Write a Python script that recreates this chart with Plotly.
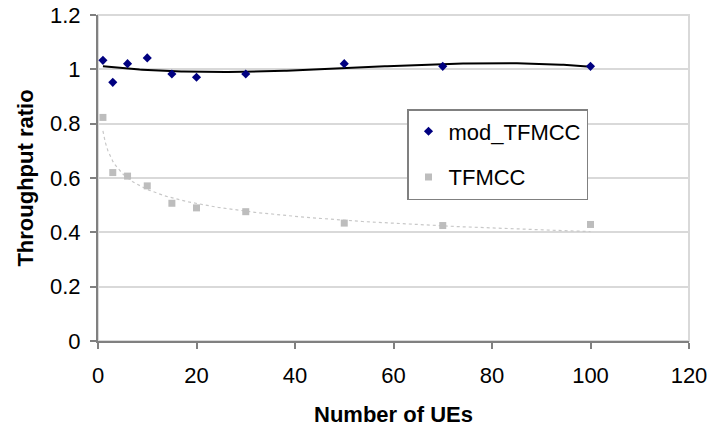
import numpy as np
import plotly.graph_objects as go

# Data
ues = [1, 3, 6, 10, 15, 20, 30, 50, 70, 100]
mod_tfmcc = [1.033, 0.952, 1.021, 1.042, 0.983, 0.971, 0.983, 1.021, 1.011, 1.011]
tfmcc = [0.823, 0.620, 0.607, 0.571, 0.507, 0.490, 0.476, 0.434, 0.425, 0.429]
x_ticks = [0, 20, 40, 60, 80, 100, 120]
y_ticks = [0, 0.2, 0.4, 0.6, 0.8, 1.0, 1.2]

# Trendlines (as Excel would fit them): cubic polynomial and power law
xs = np.linspace(min(ues), max(ues), 200)
poly = np.polyfit(ues, mod_tfmcc, 3)
mod_trend = np.polyval(poly, xs)
b, ln_a = np.polyfit(np.log(ues), np.log(tfmcc), 1)
tf_trend = np.exp(ln_a) * xs ** b

FONT = "Liberation Sans, Arial, sans-serif"
L, R, T, B = 98, 22, 15, 86
PW, PH = 711 - L - R, 427 - T - B

fig = go.Figure()
fig.add_trace(go.Scatter(x=xs, y=tf_trend, mode="lines", showlegend=False,
                         line=dict(color="#C8C8C8", width=1.2, dash="dot"), hoverinfo="skip"))
fig.add_trace(go.Scatter(x=xs, y=mod_trend, mode="lines", showlegend=False,
                         line=dict(color="#000000", width=2), hoverinfo="skip"))
fig.add_trace(go.Scatter(x=ues, y=mod_tfmcc, mode="markers", name="mod_TFMCC",
                         legendgroup="a",
                         marker=dict(symbol="diamond", size=7, color="#000080")))
fig.add_trace(go.Scatter(x=ues, y=tfmcc, mode="markers", name="TFMCC",
                         legendgroup="b",
                         marker=dict(symbol="square", size=7, color="#BDBDBD")))

fig.update_layout(
    width=711, height=427,
    margin=dict(l=L, r=R, t=T, b=B),
    paper_bgcolor="white", plot_bgcolor="white",
    font=dict(family=FONT, size=22, color="#000000"),
    showlegend=True,
    legend=dict(x=(407 - L) / PW, y=1 - (109 - T) / PH, xanchor="left", yanchor="top",
                bgcolor="white", bordercolor="#808080", borderwidth=1.5,
                font=dict(size=22), tracegroupgap=14, traceorder="grouped",
                entrywidth=150, entrywidthmode="pixels"),
    shapes=[dict(type="rect", xref="paper", yref="paper", x0=0, x1=1, y0=0, y1=1,
                 line=dict(color="#D9D9D9", width=2), layer="below")],
)
fig.update_xaxes(range=[0, 120], tickvals=x_ticks, ticks="outside", ticklen=6,
                 tickcolor="#808080", tickwidth=1.5, showline=True, linecolor="#808080",
                 linewidth=2, showgrid=False, zeroline=False, automargin=False,
                 ticklabelstandoff=8,
                 title=dict(text="<b>Number of UEs</b>", font=dict(size=22), standoff=19))
fig.update_yaxes(range=[0, 1.2], tickvals=y_ticks, ticks="outside", ticklen=6,
                 tickcolor="#808080", tickwidth=1.5, showline=True, linecolor="#808080",
                 linewidth=2, showgrid=True, gridcolor="#D9D9D9", gridwidth=2,
                 zeroline=False, automargin=False, ticklabelstandoff=5,
                 title=dict(text="<b>Throughput ratio</b>", font=dict(size=22), standoff=10))

fig.write_html("out.html")
